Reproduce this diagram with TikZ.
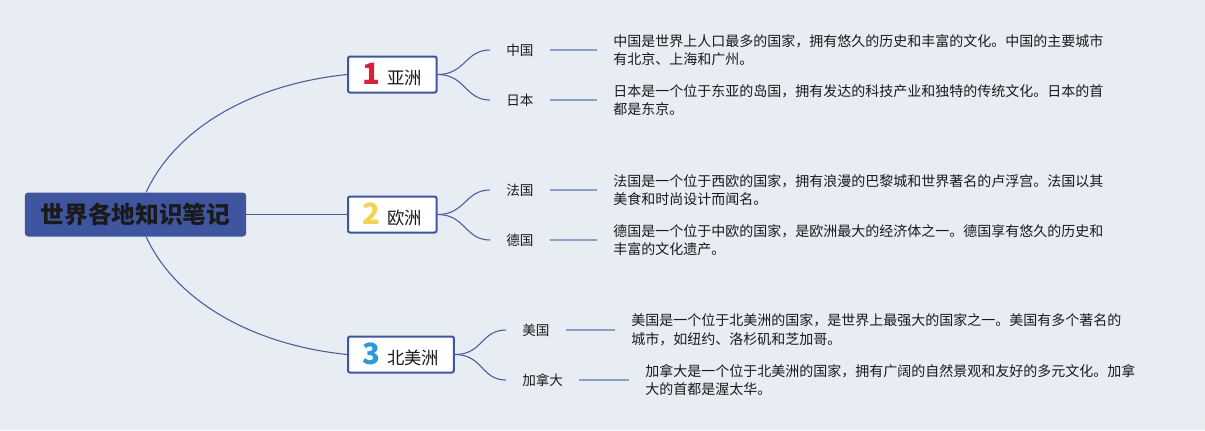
\documentclass[tikz,border=0pt]{standalone}
\usepackage{fontspec}
\setmainfont{Noto Sans CJK SC}
\usepackage{xcolor}
\definecolor{mapbg}{HTML}{E7EDF3}
\definecolor{mapblue}{HTML}{3F55A0}
\definecolor{mapedge}{HTML}{4B5C9C}
\definecolor{mapleaf}{HTML}{8E9CC8}
\definecolor{mapink}{HTML}{1A1A1A}
\definecolor{numred}{HTML}{D6213B}
\definecolor{numyellow}{HTML}{F6D24E}
\definecolor{numblue}{HTML}{2A9AD8}

\begin{document}
\begin{tikzpicture}[
  x=0.75pt,
  y=-0.75pt,
  every node/.style={text=mapink},
  rootbox/.style={fill=mapblue, rounded corners=2.5pt, minimum width=166pt, minimum height=33pt, inner sep=0pt, font=\fontsize{17.8}{20}\selectfont\bfseries},
  topicbox/.style={draw=mapblue, line width=1.5pt, fill=white, rounded corners=1.5pt, anchor=west, minimum height=27pt, inner xsep=11pt, inner ysep=0pt, font=\fontsize{13}{15}\selectfont},
  leaf/.style={anchor=west, inner xsep=12pt, inner ysep=2pt, font=\fontsize{10.2}{12}\selectfont},
  note/.style={anchor=west, align=left, inner xsep=12pt, inner ysep=0pt, font=\fontsize{10.5}{13.9}\selectfont},
  branch/.style={draw=mapedge, line width=0.8pt},
  twig/.style={draw=mapleaf, line width=1.5pt}
]
  \def\num#1#2{{\color{#1}\fontsize{22}{22}\selectfont\bfseries #2}\hspace{5pt}}

  \fill[mapbg] (0,0) rectangle (1205,430);

  \node[rootbox] (root) at (135.5,214.5) {世界各地知识笔记};

  \node[topicbox] (asia) at (347,74.5) {\num{numred}{1}亚洲};
  \node[topicbox] (europe) at (347,214.5) {\num{numyellow}{2}欧洲};
  \node[topicbox] (namerica) at (347,354.5) {\num{numblue}{3}北美洲};

  \draw[branch] ([xshift=8pt]root.north) .. controls +(29,-63) and +(-97,10) .. (asia.west);
  \draw[branch] (root.east) -- (europe.west);
  \draw[branch] ([xshift=8pt]root.south) .. controls +(29,63) and +(-97,-10) .. (namerica.west);

  \node[leaf] (china) at (490,50) {中国};
  \node[leaf] (japan) at (490,100) {日本};
  \node[leaf] (france) at (490,190) {法国};
  \node[leaf] (germany) at (490,240) {德国};
  \node[leaf] (usa) at (506,330) {美国};
  \node[leaf] (canada) at (506,380) {加拿大};

  \draw[branch] (asia.east) .. controls +(28,0) and +(-25,0) .. (china.west);
  \draw[branch] (asia.east) .. controls +(28,0) and +(-25,0) .. (japan.west);
  \draw[branch] (europe.east) .. controls +(28,0) and +(-25,0) .. (france.west);
  \draw[branch] (europe.east) .. controls +(28,0) and +(-25,0) .. (germany.west);
  \draw[branch] (namerica.east) .. controls +(28,0) and +(-25,0) .. (usa.west);
  \draw[branch] (namerica.east) .. controls +(28,0) and +(-25,0) .. (canada.west);

  \node[note] (chinanote) at (597,50) {中国是世界上人口最多的国家，拥有悠久的历史和丰富的文化。中国的主要城市\\有北京、上海和广州。};
  \node[note] (japannote) at (597,100) {日本是一个位于东亚的岛国，拥有发达的科技产业和独特的传统文化。日本的首\\都是东京。};
  \node[note] (francenote) at (597,190) {法国是一个位于西欧的国家，拥有浪漫的巴黎城和世界著名的卢浮宫。法国以其\\美食和时尚设计而闻名。};
  \node[note] (germanynote) at (597,240) {德国是一个位于中欧的国家，是欧洲最大的经济体之一。德国享有悠久的历史和\\丰富的文化遗产。};
  \node[note] (usanote) at (615,330) {美国是一个位于北美洲的国家，是世界上最强大的国家之一。美国有多个著名的\\城市，如纽约、洛杉矶和芝加哥。};
  \node[note] (canadanote) at (629,380) {加拿大是一个位于北美洲的国家，拥有广阔的自然景观和友好的多元文化。加拿\\大的首都是渥太华。};

  \draw[twig] (china.east) -- (chinanote.west);
  \draw[twig] (japan.east) -- (japannote.west);
  \draw[twig] (france.east) -- (francenote.west);
  \draw[twig] (germany.east) -- (germanynote.west);
  \draw[twig] (usa.east) -- (usanote.west);
  \draw[twig] (canada.east) -- (canadanote.west);
\end{tikzpicture}
\end{document}
